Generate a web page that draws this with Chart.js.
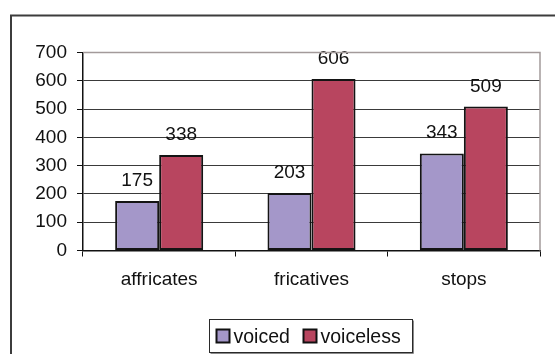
<!DOCTYPE html>
<html>
<head>
<meta charset="utf-8">
<script src="https://cdn.jsdelivr.net/npm/chart.js@4/dist/chart.umd.min.js"></script>
<style>
  html, body { margin: 0; padding: 0; background: #fff; }
  canvas { display: block; }
</style>
</head>
<body>
<canvas id="c" width="555" height="354"></canvas>
<script>
// Consonant classes and counts per voicing
const categories = ['affricates', 'fricatives', 'stops'];
const voiced = [175, 203, 343];
const voiceless = [338, 606, 509];
const seriesNames = ['voiced', 'voiceless'];
const yTicks = [0, 100, 200, 300, 400, 500, 600, 700];

const FONT = '"Liberation Sans", Arial, sans-serif';
const FONT_SIZE = 19;
const COLORS = ['#a497c9', '#b8455f'];

// Outer frame (left and top edges) plus the plot-area border on the right
const framePlugin = {
  id: 'frame',
  beforeDraw(chart) {
    const ctx = chart.ctx;
    ctx.save();
    ctx.fillStyle = '#fff';
    ctx.fillRect(0, 0, chart.width, chart.height);
    ctx.strokeStyle = '#3c3c3c';
    ctx.lineWidth = 2;
    ctx.beginPath();
    ctx.moveTo(11, chart.height);
    ctx.lineTo(11, 15.5);
    ctx.lineTo(chart.width, 15.5);
    ctx.stroke();
    ctx.restore();
  },
  afterDraw(chart) {
    const a = chart.chartArea;
    const ctx = chart.ctx;
    ctx.save();
    ctx.strokeStyle = '#a39a9a';
    ctx.lineWidth = 1.5;
    ctx.beginPath();
    ctx.moveTo(a.left, a.top);
    ctx.lineTo(a.right, a.top);
    ctx.lineTo(a.right, a.bottom);
    ctx.stroke();
    ctx.restore();
  }
};

// Value labels above each bar
const valueLabels = {
  id: 'valueLabels',
  afterDatasetsDraw(chart) {
    const ctx = chart.ctx;
    ctx.save();
    ctx.font = FONT_SIZE + 'px ' + FONT;
    ctx.fillStyle = '#111';
    ctx.textAlign = 'center';
    ctx.textBaseline = 'alphabetic';
    chart.data.datasets.forEach((ds, i) => {
      chart.getDatasetMeta(i).data.forEach((bar, j) => {
        ctx.fillText(String(ds.data[j]), bar.x, bar.y - 15);
      });
    });
    ctx.restore();
  }
};

// Boxed legend beneath the axis labels
const boxedLegend = {
  id: 'boxedLegend',
  afterDraw(chart) {
    const ctx = chart.ctx;
    const left = 209.5, top = 319.5, width = 203, h = 33;
    const swatchX = [7, 94];   // swatch offsets inside the box
    const sw = 13, gapSw = 4;
    ctx.save();
    ctx.font = '19.5px ' + FONT;
    // shadow then frame
    ctx.strokeStyle = '#8a8a8a';
    ctx.lineWidth = 1;
    ctx.beginPath();
    ctx.moveTo(left + width + 1, top + 1);
    ctx.lineTo(left + width + 1, top + h + 1);
    ctx.lineTo(left + 1, top + h + 1);
    ctx.stroke();
    ctx.strokeStyle = '#2a2a2a';
    ctx.strokeRect(left, top, width, h);
    ctx.textBaseline = 'alphabetic';
    ctx.textAlign = 'left';
    const cy = top + h / 2;
    chart.data.datasets.forEach((ds, i) => {
      const x = left + swatchX[i];
      ctx.fillStyle = ds.backgroundColor;
      ctx.fillRect(x, cy - sw / 2, sw, sw);
      ctx.strokeStyle = '#111';
      ctx.lineWidth = 2;
      ctx.strokeRect(x, cy - sw / 2, sw, sw);
      ctx.fillStyle = '#111';
      ctx.fillText(ds.label, x + sw + gapSw, cy + 7);
    });
    ctx.restore();
  }
};

new Chart(document.getElementById('c'), {
  type: 'bar',
  data: {
    labels: categories,
    datasets: [
      { label: seriesNames[0], data: voiced, backgroundColor: COLORS[0] },
      { label: seriesNames[1], data: voiceless, backgroundColor: COLORS[1] }
    ]
  },
  options: {
    responsive: false,
    animation: false,
    devicePixelRatio: 1,
    layout: { padding: { left: 12, top: 52.5, right: 15, bottom: 0 } },
    datasets: {
      bar: {
        categoryPercentage: 0.578,
        barPercentage: 1,
        borderColor: '#141414',
        borderWidth: 2,
        borderSkipped: false
      }
    },
    plugins: {
      legend: { display: false },
      tooltip: { enabled: false }
    },
    scales: {
      x: {
        afterFit(scale) { scale.height = 103.5; },
        grid: {
          offset: true,
          drawOnChartArea: false,
          drawTicks: true,
          tickLength: 6,
          tickColor: '#111',
          tickWidth: 1
        },
        border: { display: true, color: '#111', width: 1.5 },
        ticks: {
          color: '#111',
          padding: 12,
          font: { family: FONT, size: FONT_SIZE }
        }
      },
      y: {
        min: 0,
        max: 700,
        afterFit(scale) { scale.width = 71; },
        afterBuildTicks(scale) { scale.ticks = yTicks.map(v => ({ value: v })); },
        grid: {
          color: ctx => (ctx.tick && ctx.tick.value === 700) ? 'rgba(0,0,0,0)' : '#3a3a3a',
          lineWidth: 1,
          drawTicks: true,
          tickLength: 6,
          tickColor: '#111'
        },
        border: { display: true, color: '#111', width: 1.5 },
        ticks: {
          color: '#111',
          padding: 10,
          font: { family: FONT, size: FONT_SIZE }
        }
      }
    }
  },
  plugins: [framePlugin, valueLabels, boxedLegend]
});
</script>
</body>
</html>
